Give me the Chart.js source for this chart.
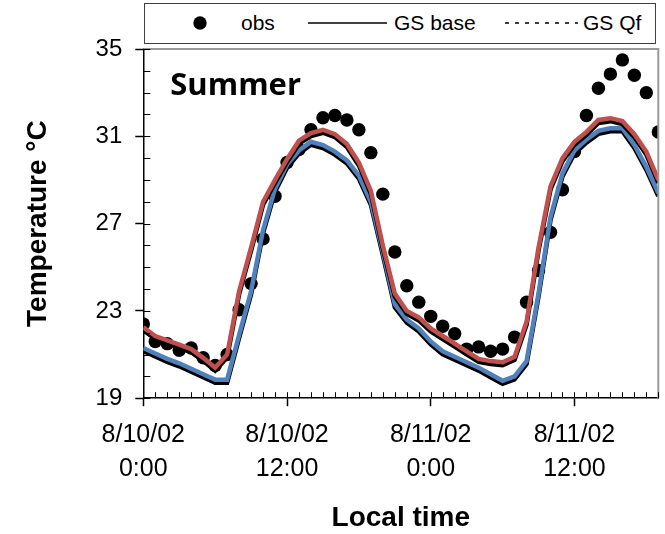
<!DOCTYPE html>
<html>
<head>
<meta charset="utf-8">
<script src="https://cdn.jsdelivr.net/npm/chart.js@4.4.1/dist/chart.umd.min.js"></script>
<style>
  body { margin: 0; background: #fff; }
  #wrap { position: relative; width: 665px; height: 534px; }
  #legend { position: absolute; left: 0; top: 0; }
</style>
</head>
<body>
<div id="wrap">
  <canvas id="temp-chart" width="665" height="534"></canvas>
  <svg id="legend" width="665" height="48" xmlns="http://www.w3.org/2000/svg"
       font-family="'Liberation Sans', Arial, sans-serif" font-size="21">
    <rect x="144.5" y="3.5" width="511" height="40" fill="#fff" stroke="#404040" stroke-width="1"/>
    <circle cx="200" cy="23" r="6.7" fill="#000"/>
    <text x="241" y="30">obs</text>
    <line x1="308" y1="23" x2="387" y2="23" stroke="#000" stroke-width="1.6"/>
    <text x="394" y="30">GS base</text>
    <line x1="505" y1="23" x2="578" y2="23" stroke="#000" stroke-width="1.6" stroke-dasharray="4 6"/>
    <text x="583" y="30">GS Qf</text>
  </svg>
</div>
<script>
// hours since 8/10/02 0:00
const hours = [0, 1, 2, 3, 4, 5, 6, 7, 8, 9, 10, 11, 12, 13, 14, 15, 16, 17, 18, 19, 20, 21,
  22, 23, 24, 25, 26, 27, 28, 29, 30, 31, 32, 33, 34, 35, 36, 37, 38, 39, 40, 41, 42, 43];

const obsTemp = [22.4, 21.6, 21.5, 21.2, 21.3, 20.85, 20.5, 21.0, 23.05, 24.25, 26.3, 28.25,
  29.8, 30.4, 31.3, 31.85, 31.95, 31.75, 31.3, 30.25, 28.35, 25.7, 24.15, 23.4, 22.75, 22.3,
  21.95, 21.25, 21.35, 21.15, 21.25, 21.8, 23.4, 24.85, 26.6, 28.55, 30.3, 31.95, 33.2, 33.85,
  34.5, 33.8, 33.0, 31.2];

const gsBase = [21.3, 21.05, 20.8, 20.6, 20.35, 20.1, 19.85, 19.85, 21.9, 23.9, 26.7, 28.6,
  29.7, 30.35, 30.75, 30.6, 30.3, 29.9, 29.2, 28.0, 25.7, 23.3, 22.6, 22.2, 21.6, 21.15,
  20.9, 20.65, 20.4, 20.1, 19.8, 20.0, 20.7, 23.8, 27.3, 29.3, 30.35, 30.85, 31.25, 31.37,
  31.37, 30.6, 29.6, 28.4];

const gsQf = [22.25, 21.85, 21.65, 21.45, 21.25, 20.85, 20.4, 21.0, 23.9, 25.9, 28.0, 29.0,
  29.95, 30.8, 31.15, 31.3, 31.1, 30.65, 29.8, 28.5, 26.0, 23.8, 23.0, 22.7, 22.2, 21.85,
  21.5, 21.15, 20.8, 20.7, 20.65, 20.9, 22.5, 25.9, 28.7, 30.0, 30.75, 31.2, 31.75, 31.83,
  31.7, 31.1, 30.3, 29.0];

const xTickHours = [0, 12, 24, 36];
const xTickLabels = [["8/10/02", "0:00"], ["8/10/02", "12:00"], ["8/11/02", "0:00"], ["8/11/02", "12:00"]];
const yTickLabels = [19, 23, 27, 31, 35];

document.addEventListener("DOMContentLoaded", () => {
  const FONT = "'Liberation Sans', Arial, sans-serif";
  Chart.defaults.color = "#000";
  Chart.defaults.font.family = FONT;

  // black drop shadow under the coloured model lines
  const lineShadow = {
    id: "lineShadow",
    beforeDatasetDraw(chart, args) {
      if (!chart.data.datasets[args.index].shadow) return;
      const c = chart.ctx;
      c.save();
      c.shadowColor = "#000";
      c.shadowBlur = 0;
      c.shadowOffsetX = 0;
      c.shadowOffsetY = 3;
    },
    afterDatasetDraw(chart, args) {
      if (chart.data.datasets[args.index].shadow) chart.ctx.restore();
    },
  };

  // inner tick marks, grey frame and the "Summer" note
  const decorations = {
    id: "decorations",
    afterDraw(chart) {
      const { ctx: c, chartArea: a, scales } = chart;
      c.save();
      c.strokeStyle = "#999";
      c.lineWidth = 2;
      c.beginPath();
      c.moveTo(a.left, a.top);
      c.lineTo(a.right, a.top);
      c.lineTo(a.right, a.bottom);
      c.stroke();

      c.strokeStyle = "#000";
      c.lineWidth = 1;
      c.beginPath();
      scales.x.ticks.forEach((t) => {
        const px = Math.round(scales.x.getPixelForValue(t.value)) + 0.5;
        c.moveTo(px, a.bottom);
        c.lineTo(px, a.bottom - 6);
      });
      scales.y.ticks.forEach((t) => {
        const py = Math.round(scales.y.getPixelForValue(t.value)) + 0.5;
        c.moveTo(a.left, py);
        c.lineTo(a.left + 7, py);
      });
      c.stroke();

      c.fillStyle = "#000";
      c.font = "bold 31px 'Open Sans', sans-serif";
      c.textBaseline = "alphabetic";
      c.fillText("Summer", a.left + 27, a.top + 46);
      c.restore();
    },
  };

  const ctx = document.getElementById("temp-chart").getContext("2d");
  new Chart(ctx, {
    type: "line",
    data: {
      datasets: [
        {
          label: "obs",
          type: "scatter",
          data: hours.map((h, i) => ({ x: h, y: obsTemp[i] })),
          showLine: false,
          pointRadius: 6.7,
          pointBackgroundColor: "#000",
          pointBorderWidth: 0,
          order: 3,
        },
        {
          label: "GS base",
          data: hours.map((h, i) => ({ x: h, y: gsBase[i] })),
          borderColor: "#4F81BD",
          borderWidth: 4.5,
          pointRadius: 0,
          tension: 0,
          shadow: true,
          order: 2,
        },
        {
          label: "GS Qf",
          data: hours.map((h, i) => ({ x: h, y: gsQf[i] })),
          borderColor: "#C0504D",
          borderWidth: 4.5,
          pointRadius: 0,
          tension: 0,
          shadow: true,
          order: 1,
        },
      ],
    },
    options: {
      responsive: false,
      animation: false,
      events: [],
      layout: { padding: { left: 10, right: 6, top: 49, bottom: 0 } },
      plugins: {
        legend: { display: false },
        tooltip: { enabled: false },
      },
      scales: {
        x: {
          type: "linear",
          min: 0,
          max: 43,
          afterFit: (scale) => {
            // last tick has no label, so no room needed on the right
            scale.paddingRight = 0;
          },
          border: { color: "#000", width: 1.5 },
          grid: {
            drawOnChartArea: false,
            tickLength: 8,
            tickWidth: 1.5,
            tickColor: (c) => (xTickHours.includes(c.tick && c.tick.value) ? "#000" : "transparent"),
          },
          ticks: {
            stepSize: 1,
            autoSkip: false,
            maxRotation: 0,
            padding: 12,
            font: { size: 25, lineHeight: 1.36 },
            callback: (value) => {
              const i = xTickHours.indexOf(value);
              return i >= 0 ? xTickLabels[i] : "";
            },
          },
          title: {
            display: true,
            text: "Local time",
            font: { size: 28, weight: "bold", lineHeight: 1.1 },
            padding: { top: 5, bottom: 0 },
          },
        },
        y: {
          min: 19,
          max: 35,
          border: { color: "#000", width: 1.5 },
          grid: {
            drawOnChartArea: false,
            tickLength: 8,
            tickWidth: 1.5,
            tickColor: (c) => (yTickLabels.includes(c.tick && c.tick.value) ? "#000" : "transparent"),
          },
          ticks: {
            stepSize: 1,
            autoSkip: false,
            padding: 13,
            font: { size: 24 },
            callback: (value) => (yTickLabels.includes(value) ? String(value) : ""),
          },
          title: {
            display: true,
            text: "Temperature °C",
            font: { size: 28, weight: "bold" },
            padding: { top: 11, bottom: 28 },
          },
        },
      },
    },
    plugins: [lineShadow, decorations],
  });
});
</script>
</body>
</html>
